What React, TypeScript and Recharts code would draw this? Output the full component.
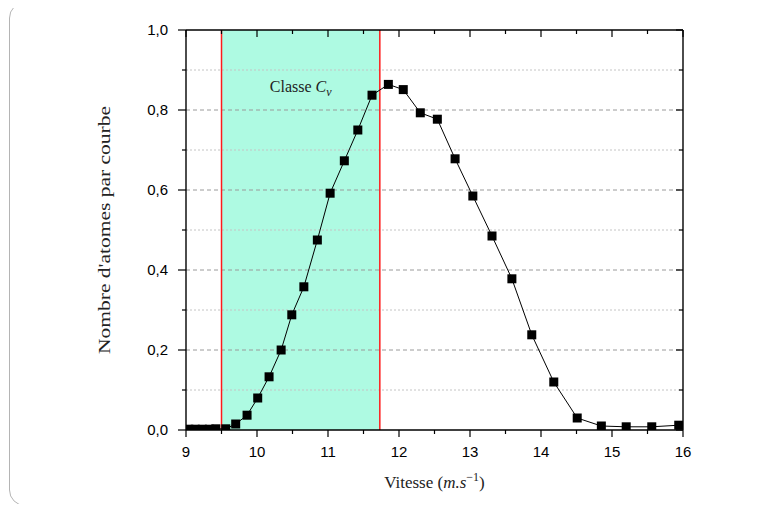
import { ComposedChart, Line, XAxis, YAxis, ReferenceArea, ReferenceLine, Label } from 'recharts';

const vitesse = [
  9.04, 9.13, 9.23, 9.33, 9.42, 9.56, 9.70, 9.86, 10.01, 10.17, 10.34, 10.49, 10.66, 10.85, 11.03, 11.23, 11.42,
  11.62, 11.85, 12.06, 12.30, 12.54, 12.79, 13.04, 13.31, 13.59, 13.87, 14.18, 14.51, 14.85, 15.20, 15.56, 15.94,
];
const atomes = [
  0.002, 0.002, 0.002, 0.002, 0.003, 0.003, 0.015, 0.037, 0.08, 0.133, 0.2, 0.288, 0.358, 0.475, 0.592, 0.673, 0.75,
  0.837, 0.864, 0.851, 0.793, 0.777, 0.678, 0.585, 0.485, 0.378, 0.238, 0.12, 0.03, 0.01, 0.008, 0.008, 0.012,
];
const xMajor = [9, 10, 11, 12, 13, 14, 15, 16];
const xMinor = [9.5, 10.5, 11.5, 12.5, 13.5, 14.5, 15.5];
const yMajor = [0, 0.2, 0.4, 0.6, 0.8, 1.0];
const yMinor = [0.1, 0.3, 0.5, 0.7, 0.9];
const gridMajor = [0.2, 0.4, 0.6, 0.8];
const classe = [9.5, 11.73];

const data = vitesse.map((v, i) => ({ v, n: atomes[i] }));
const xTicks = [...xMajor, ...xMinor].sort((a, b) => a - b);
const yTicks = [...yMajor, ...yMinor].sort((a, b) => a - b);

const tickFont = { fontFamily: '"Liberation Sans", Arial, sans-serif', fontSize: 15, fill: '#000' };
const serif = '"Liberation Serif", "DejaVu Serif", serif';
const frame = { stroke: '#000', strokeWidth: 1.4 };

const isMajor = (list: number[], v: number) => list.some((m) => Math.abs(m - v) < 1e-6);
const fmt = (v: number) => v.toFixed(1).replace('.', ',');

function BottomTick({ x, y, payload }: any) {
  const major = isMajor(xMajor, payload.value);
  return (
    <g>
      <line x1={x} x2={x} y1={y} y2={y + (major ? 7 : 4)} stroke="#000" strokeWidth={1.2} />
      {major && (
        <text x={x} y={y + 27} textAnchor="middle" {...tickFont}>
          {payload.value}
        </text>
      )}
    </g>
  );
}

function TopTick({ x, y, payload }: any) {
  const major = isMajor(xMajor, payload.value);
  return <line x1={x} x2={x} y1={y} y2={y + (major ? 7 : 4)} stroke="#000" strokeWidth={1.2} />;
}

function LeftTick({ x, y, payload }: any) {
  const major = isMajor(yMajor, payload.value);
  return (
    <g>
      <line x1={x} x2={x - (major ? 8 : 4)} y1={y} y2={y} stroke="#000" strokeWidth={1.2} />
      {major && (
        <text x={x - 18} y={y + 5} textAnchor="end" {...tickFont}>
          {fmt(payload.value)}
        </text>
      )}
    </g>
  );
}

function RightTick({ x, y, payload }: any) {
  const major = isMajor(yMajor, payload.value);
  return <line x1={x} x2={x - (major ? 7 : 4)} y1={y} y2={y} stroke="#000" strokeWidth={1.2} />;
}

function Square({ cx, cy, index }: any) {
  return <rect key={index} x={cx - 4.5} y={cy - 4.5} width={9} height={9} fill="#000" />;
}

function YTitle({ viewBox }: any) {
  const x = viewBox.x + viewBox.width - 76;
  const y = viewBox.y + viewBox.height / 2;
  return (
    <text
      x={x}
      y={y}
      transform={`rotate(-90 ${x} ${y})`}
      textAnchor="middle"
      fontFamily={serif}
      fontSize={17}
      fill="#222"
      textLength={248}
      lengthAdjust="spacingAndGlyphs"
    >
      Nombre d'atomes par courbe
    </text>
  );
}

function XTitle({ viewBox }: any) {
  const x = viewBox.x + viewBox.width / 2;
  const y = viewBox.y + 58;
  return (
    <text x={x} y={y} textAnchor="middle" fontFamily={serif} fontSize={17} fill="#222">
      Vitesse (<tspan fontStyle="italic">m.s</tspan>
      <tspan fontSize={12} dy={-7}>−1</tspan>
      <tspan dy={7}>)</tspan>
    </text>
  );
}

function ClasseTitle({ viewBox }: any) {
  const x = viewBox.x + viewBox.width / 2;
  const y = viewBox.y + 62;
  return (
    <text x={x} y={y} textAnchor="middle" fontFamily={serif} fontSize={16} fill="#222">
      Classe <tspan fontStyle="italic">C</tspan>
      <tspan fontStyle="italic" fontSize={12} dy={4}>v</tspan>
    </text>
  );
}

export default function App() {
  return (
    <div style={{ position: 'relative', width: 764, height: 496 }}>
      <div
        style={{
          position: 'absolute',
          left: 1,
          top: -6,
          width: 790,
          height: 504,
          border: '1.5px solid #b4b4b4',
          borderRadius: 16,
          boxSizing: 'border-box',
        }}
      />
      <div style={{ position: 'absolute', left: -8, top: -8 }}>
        <ComposedChart width={780} height={512} data={data} margin={{ top: 30, right: 97, bottom: 52, left: 126 }}>
          <XAxis
            xAxisId="b"
            dataKey="v"
            type="number"
            domain={[9, 16]}
            ticks={xTicks}
            interval={0}
            allowDataOverflow
            height={30}
            tickSize={0}
            tickMargin={0}
            tickLine={false}
            tick={<BottomTick />}
            axisLine={frame}
          >
            <Label content={<XTitle />} />
          </XAxis>
          <XAxis
            xAxisId="t"
            orientation="top"
            mirror
            dataKey="v"
            type="number"
            domain={[9, 16]}
            ticks={xTicks}
            interval={0}
            allowDataOverflow
            height={20}
            tickSize={0}
            tickMargin={0}
            tickLine={false}
            tick={<TopTick />}
            axisLine={frame}
          />
          <YAxis
            yAxisId="l"
            type="number"
            domain={[0, 1]}
            ticks={yTicks}
            interval={0}
            allowDataOverflow
            width={60}
            tickSize={0}
            tickMargin={0}
            tickLine={false}
            tick={<LeftTick />}
            axisLine={frame}
          >
            <Label content={<YTitle />} />
          </YAxis>
          <YAxis
            yAxisId="r"
            orientation="right"
            mirror
            type="number"
            domain={[0, 1]}
            ticks={yTicks}
            interval={0}
            allowDataOverflow
            width={20}
            tickSize={0}
            tickMargin={0}
            tickLine={false}
            tick={<RightTick />}
            axisLine={frame}
          />
          {yMinor.map((g) => (
            <ReferenceLine key={'m' + g} xAxisId="b" yAxisId="l" y={g} stroke="#c4c4c4" strokeDasharray="2 2" />
          ))}
          {gridMajor.map((g) => (
            <ReferenceLine key={'M' + g} xAxisId="b" yAxisId="l" y={g} stroke="#9a9a9a" strokeDasharray="4 3" />
          ))}
          <ReferenceArea
            xAxisId="b"
            yAxisId="l"
            x1={classe[0]}
            x2={classe[1]}
            y1={0}
            y2={1}
            fill="#aefae2"
            fillOpacity={1}
            stroke="none"
            label={<ClasseTitle />}
          />
          {classe.map((c) => (
            <ReferenceLine key={'c' + c} xAxisId="b" yAxisId="l" x={c} stroke="#ff1a1a" strokeWidth={1.5} />
          ))}
          <Line
            xAxisId="b"
            yAxisId="l"
            dataKey="n"
            type="linear"
            stroke="#000"
            strokeWidth={1}
            dot={<Square />}
            activeDot={false}
            isAnimationActive={false}
          />
        </ComposedChart>
      </div>
    </div>
  );
}
